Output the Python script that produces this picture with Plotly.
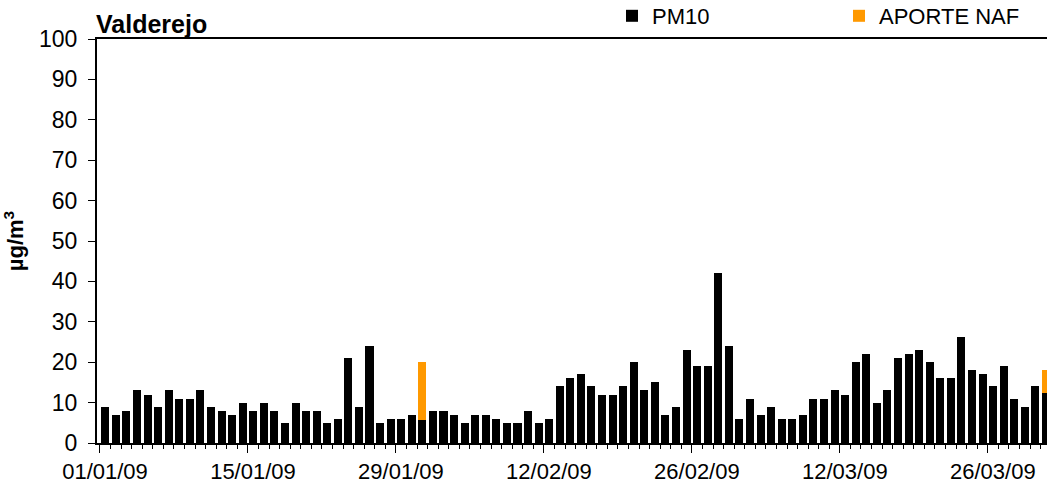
import pandas as pd
import plotly.graph_objects as go

# daily PM10 at Valderejo, 01/01/09 - 31/03/09
dates = pd.date_range("2009-01-01", "2009-03-31", freq="D")
pm10 = [9, 7, 8, 13, 12, 9, 13, 11, 11, 13, 9, 8, 7, 10, 8, 10, 8, 5, 10, 8, 8, 5,
        6, 21, 9, 24, 5, 6, 6, 7, 5.7,
        8, 8, 7, 5, 7, 7, 6, 5, 5, 8, 5, 6,
        14, 16, 17, 14, 12, 12, 14, 20, 13, 15, 7, 9, 23, 19, 19, 42, 24,
        6, 11, 7, 9, 6, 6, 7, 11, 11, 13,
        12, 20, 22, 10, 13, 21, 22, 23, 20, 16, 16, 26.3, 18, 17, 14, 19, 11, 9, 14, 12.5]

# natural (african dust) contribution, only on two days
naf_dates = ["2009-01-31", "2009-03-31"]
naf_vals = [14.4, 5.5]

naf = pd.Series(naf_vals, index=pd.to_datetime(naf_dates)).reindex(dates)

font = "Liberation Sans, Arial"
DAY = 86400000

fig = go.Figure()
fig.add_trace(go.Bar(x=dates, y=pm10, name="PM10", marker_color="black",
                     marker_line_width=0,
                     xperiod=DAY, xperiodalignment="middle"))
fig.add_trace(go.Bar(x=dates, y=naf.values, name="APORTE NAF", marker_color="#FF9900",
                     marker_line_width=0,
                     xperiod=DAY, xperiodalignment="middle"))

fig.update_layout(
    width=1047, height=490,
    barmode="stack", bargap=0.24,
    plot_bgcolor="white", paper_bgcolor="white",
    margin=dict(l=97, r=0, t=39, b=47, autoexpand=False),
    font=dict(family=font, size=22, color="black"),
    title=dict(text="<b>Valderejo</b>", x=96 / 1047, xref="container", xanchor="left",
               y=1 - 24 / 490, yref="container", yanchor="middle",
               font=dict(size=25)),
    legend=dict(orientation="h", x=612 / 1047, xref="container", xanchor="left",
                y=1 - 16 / 490, yref="container", yanchor="middle",
                entrywidth=182, entrywidthmode="pixels",
                font=dict(size=22), traceorder="normal",
                bgcolor="rgba(0,0,0,0)"),
)

fig.update_xaxes(
    type="date", automargin=False,
    range=["2008-12-31 17:12", "2009-03-31 14:24"],
    tick0="2009-01-01", dtick=14 * DAY, tickformat="%d/%m/%y",
    ticks="outside", ticklen=8, tickcolor="black", tickwidth=1,
    minor=dict(dtick=DAY, tick0="2009-01-01", ticks="outside", ticklen=4,
               tickcolor="black", showgrid=False),
    showline=True, linecolor="black", linewidth=2, mirror=True,
    showgrid=False, zeroline=False,
    tickfont=dict(size=22), ticklabelshift=5,
)
fig.update_yaxes(
    range=[0, 100], dtick=10, automargin=False,
    ticks="outside", ticklen=7, tickcolor="black",
    showline=True, linecolor="black", linewidth=2,
    showgrid=False, zeroline=False,
    tickfont=dict(size=23), ticklabelstandoff=6,
    title=dict(text="<b>µg/m<sup>3</sup></b>", font=dict(size=22), standoff=16),
)

fig.write_html("out.html", config={"displayModeBar": False},
               post_script="document.body.style.margin='0';")
